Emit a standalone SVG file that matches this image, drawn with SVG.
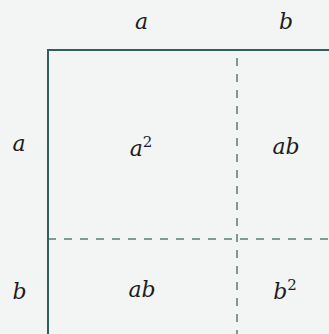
<svg xmlns="http://www.w3.org/2000/svg" width="329" height="334" viewBox="0 0 329 334">
<style>
.t{font-family:"DejaVu Serif","Liberation Serif",serif;font-style:italic;font-size:22px;fill:#1c1c1c;text-anchor:middle}
.sup{font-size:15px;font-style:normal}
.solid{stroke:#2e5f5a;stroke-width:2;fill:none}
.dash{stroke:#7f9a95;stroke-width:2;stroke-dasharray:8 8;fill:none}
</style>
<rect width="329" height="334" fill="#f3f5f4"/>
<g id="connectors">
<line class="dash" x1="48" y1="239" x2="329" y2="239"/>
<line class="dash" x1="237" y1="58" x2="237" y2="334"/>
<path class="solid" d="M48 334 V50 H329"/>
</g>
<g id="label-top-a"><text class="t" x="141.5" y="29">a</text></g>
<g id="label-top-b"><text class="t" x="286" y="29">b</text></g>
<g id="label-left-a"><text class="t" x="19" y="151">a</text></g>
<g id="label-left-b"><text class="t" x="19.5" y="299">b</text></g>
<g id="cell-a2"><text class="t" x="141" y="156">a<tspan class="sup" dy="-9">2</tspan></text></g>
<g id="cell-ab-top"><text class="t" x="286" y="154">ab</text></g>
<g id="cell-ab-bottom"><text class="t" x="142" y="297">ab</text></g>
<g id="cell-b2"><text class="t" x="285" y="299">b<tspan class="sup" dy="-9">2</tspan></text></g>
</svg>
